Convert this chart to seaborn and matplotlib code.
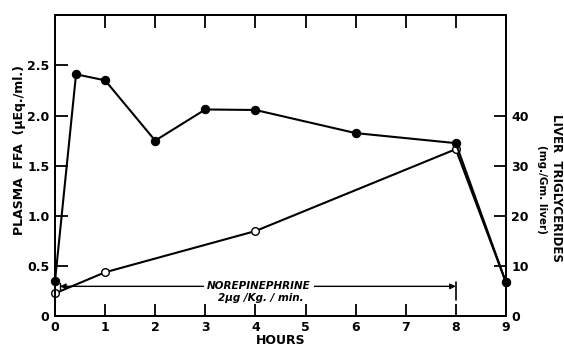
import matplotlib
matplotlib.use("Agg")
import matplotlib.pyplot as plt
import seaborn as sns
import pandas as pd

# Plasma free fatty acids (left axis, µEq./ml.)
ffa_hours = [0, 0.42, 1, 2, 3, 4, 6, 8, 9]
ffa_values = [0.35, 2.41, 2.35, 1.75, 2.06, 2.055, 1.825, 1.725, 0.34]

# Liver triglycerides (right axis, mg./Gm. liver)
tg_hours = [0, 1, 4, 8, 9]
tg_values = [4.6, 8.8, 17.0, 33.3, 6.8]

x_ticks = [0, 1, 2, 3, 4, 5, 6, 7, 8, 9]
left_ticks = [0, 0.5, 1.0, 1.5, 2.0, 2.5]
left_labels = ["0", "0.5", "1.0", "1.5", "2.0", "2.5"]
right_ticks = [0, 10, 20, 30, 40]

infusion_start, infusion_end = 0.1, 8

sns.set_style("ticks")
plt.rcParams["font.family"] = ["DejaVu Sans"]
plt.rcParams["font.weight"] = "bold"
plt.rcParams["text.color"] = "black"
plt.rcParams["axes.labelcolor"] = "black"
plt.rcParams["xtick.color"] = "black"
plt.rcParams["ytick.color"] = "black"

fig = plt.figure(figsize=(5.64, 3.46), dpi=100)
ax = fig.add_axes([0.0975, 0.0853, 0.7995, 0.8713])
ax2 = ax.twinx()

ffa_df = pd.DataFrame({"hours": ffa_hours, "ffa": ffa_values})
tg_df = pd.DataFrame({"hours": tg_hours, "tg": tg_values})

sns.lineplot(data=tg_df, x="hours", y="tg", ax=ax2, color="black", lw=1.5,
             marker="o", markersize=5.5, markerfacecolor="white",
             markeredgecolor="black", markeredgewidth=1.0, clip_on=False)
sns.lineplot(data=ffa_df, x="hours", y="ffa", ax=ax, color="black", lw=1.5,
             marker="o", markersize=6, markerfacecolor="black",
             markeredgecolor="black", clip_on=False)

# keep the FFA curve above the triglyceride curve
ax.set_zorder(ax2.get_zorder() + 1)
ax.patch.set_visible(False)

ax.set_xlim(0, 9)
ax.set_ylim(0, 3.0)
ax2.set_ylim(0, 60)

ax.set_xticks(x_ticks)
ax.set_xticklabels([str(t) for t in x_ticks], fontsize=9, fontweight="bold")
ax.set_yticks(left_ticks)
ax.set_yticklabels(left_labels, fontsize=9, fontweight="bold")
ax2.set_yticks(right_ticks)
ax2.set_yticklabels([str(t) for t in right_ticks], fontsize=9, fontweight="bold")

ax.tick_params(axis="both", direction="in", length=9, width=1.3, pad=4,
               top=True, labeltop=False, colors="black")
ax.tick_params(axis="x", pad=3)
ax2.tick_params(axis="y", direction="in", length=9, width=1.3, pad=4, colors="black")

for a in (ax, ax2):
    for s in a.spines.values():
        s.set_visible(True)
        s.set_linewidth(1.3)
        s.set_color("black")

ax.set_xlabel("HOURS", fontsize=9, fontweight="bold")
ax.xaxis.label.set_va("center")
ax.xaxis.set_label_coords(0.5, -0.08)

ax.set_ylabel("PLASMA  FFA  (\u03bcEq./ml.)", fontsize=9, fontweight="bold")
ax.yaxis.label.set_va("center")
ax.yaxis.label.set_ha("center")
ax.yaxis.set_label_coords(-0.078, 0.552)

ax2.set_ylabel("LIVER  TRIGLYCERIDES", fontsize=8.5, fontweight="bold", rotation=270)
ax2.yaxis.label.set_va("center")
ax2.yaxis.label.set_ha("center")
ax2.yaxis.set_label_coords(1.112, 0.426)
ax2.text(1.079, 0.42, "(mg./Gm. liver)", transform=ax2.transAxes, rotation=270,
         ha="center", va="center", fontsize=7.5, fontweight="bold")

# infusion period marker
ax.annotate("", xy=(infusion_start, 0.30), xytext=(infusion_end, 0.30),
            arrowprops=dict(arrowstyle="<|-|>", lw=1.0, color="black",
                            mutation_scale=8, shrinkA=0, shrinkB=0))
ax.plot([infusion_end, infusion_end], [0.34, 0.16], color="black", lw=1.2)
ax.plot([infusion_start, infusion_start], [0.33, 0.27], color="black", lw=1.0)
ax.text(4.07, 0.30, "NOREPINEPHRINE", ha="center", va="center", fontsize=7.5,
        style="italic", fontweight="bold",
        bbox=dict(fc="white", ec="none", pad=2.5))
ax.text(4.1, 0.185, "2\u03bcg /Kg. / min.", ha="center", va="center", fontsize=7.5,
        style="italic", fontweight="bold")

fig.savefig("out.png", dpi=100)
